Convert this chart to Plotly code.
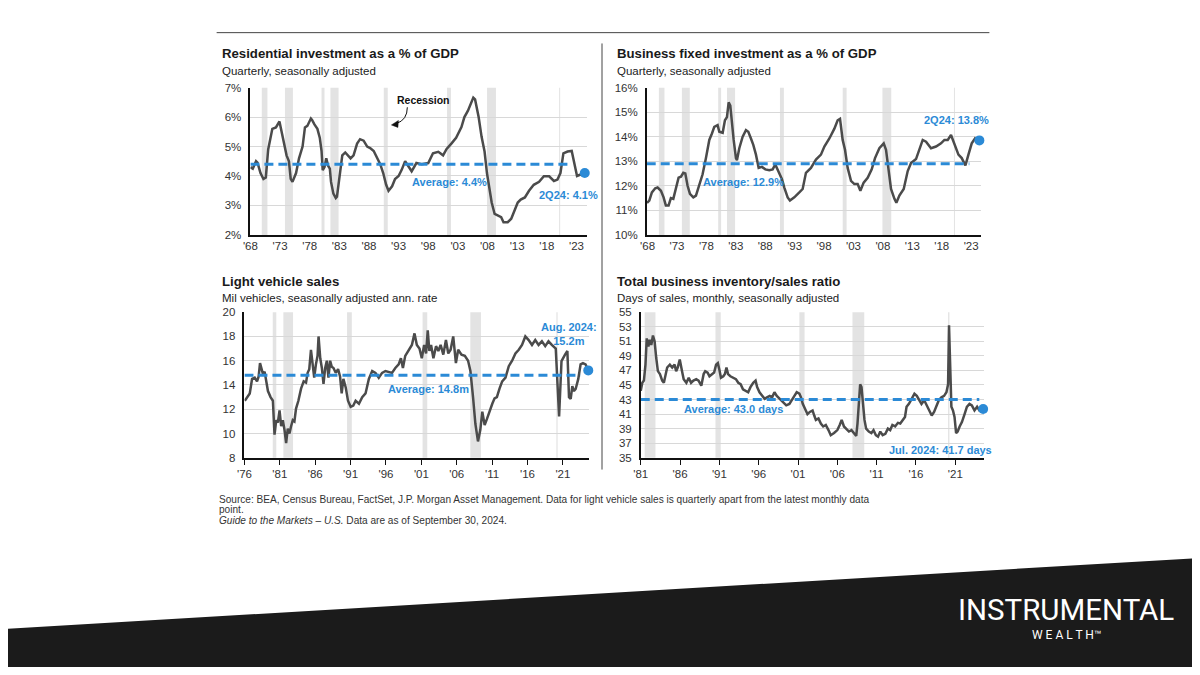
import plotly.graph_objects as go

# Target picture is 1200x675; the page adds an 8px body margin, so the figure is
# sized to fit inside it and positions below are given in picture pixels.
PAGE_W, PAGE_H = 1200, 675
OFF = 8
W, H = PAGE_W - 2 * OFF, PAGE_H - 2 * OFF


def px(x):
    return (x - OFF) / W


def py(y):
    return 1 - (y - OFF) / H


# ---------------- DATA ----------------
res_years = [1968.0, 1968.4, 1968.95, 1969.2, 1969.7, 1970.2, 1970.6, 1971.0, 1971.7, 1972.3, 1972.9,
             1973.3, 1973.8, 1974.1, 1974.5, 1974.8, 1975.1, 1975.7, 1976.2, 1976.8, 1977.2, 1977.6,
             1978.2, 1978.4, 1978.8, 1979.3, 1979.7, 1980.0, 1980.2, 1980.5, 1980.8, 1981.1, 1981.4,
             1981.6, 1982.0, 1982.4, 1982.6, 1983.0, 1983.5, 1984.0, 1984.4, 1984.9, 1985.4, 1986.0,
             1986.5, 1987.1, 1987.7, 1988.2, 1988.8, 1989.3, 1989.9, 1990.4, 1990.9, 1991.3, 1991.9,
             1992.4, 1993.0, 1993.5, 1994.1, 1995.2, 1996.0, 1996.9, 1998.0, 1998.8, 1999.7, 2000.5,
             2001.1, 2001.9, 2002.7, 2003.6, 2004.1, 2004.7, 2005.2, 2005.6, 2005.9, 2006.5, 2007.0,
             2007.5, 2007.9, 2008.3, 2008.7, 2009.2, 2009.7, 2010.3, 2010.7, 2011.4, 2012.0, 2012.5,
             2013.1, 2013.6, 2014.3, 2015.0, 2015.8, 2016.7, 2017.5, 2018.4, 2019.2, 2019.8, 2020.3,
             2020.8, 2021.5, 2022.2, 2022.7, 2023.1, 2023.7, 2024.4]
res_values = [4.3, 4.25, 4.5, 4.45, 4.1, 3.9, 3.95, 4.9, 5.6, 5.65, 5.85,
              5.5, 5.0, 4.7, 4.5, 3.9, 3.8, 4.1, 4.6, 5.0, 5.65, 5.7,
              5.95, 5.9, 5.75, 5.6, 5.3, 4.85, 4.2, 4.3, 4.6, 4.35, 4.25,
              3.8, 3.4, 3.25, 3.3, 3.9, 4.7, 4.8, 4.7, 4.6, 4.7, 5.1,
              5.25, 5.2, 5.0, 4.95, 4.85, 4.65, 4.4, 4.1, 3.7, 3.5, 3.65,
              3.9, 4.0, 4.2, 4.5, 4.16, 4.44, 4.4, 4.44, 4.77, 4.82, 4.7,
              4.92, 5.1, 5.3, 5.66, 6.0, 6.22, 6.5, 6.66, 6.6, 6.0, 5.33,
              4.83, 4.1, 3.54, 3.1, 2.71, 2.66, 2.6, 2.43, 2.43, 2.55, 2.82,
              3.1, 3.2, 3.27, 3.5, 3.7, 3.8, 3.99, 3.99, 3.83, 3.88, 4.1,
              4.77, 4.83, 4.85, 4.38, 4.0, 4.05, 4.1]

bfi_years = [1967.9, 1968.29, 1968.73, 1969.3, 1969.7, 1970.27, 1970.72, 1971.1, 1971.57, 1971.96,
             1972.37, 1972.82, 1973.27, 1973.67, 1974.07, 1974.41, 1974.8, 1975.2, 1975.77, 1976.22,
             1976.79, 1977.35, 1977.92, 1978.49, 1978.94, 1979.34, 1979.9, 1980.19, 1980.76, 1981.15,
             1981.49, 1981.78, 1982.06, 1982.34, 1982.63, 1983.02, 1983.19, 1983.59, 1984.16, 1984.72,
             1985.12, 1985.57, 1985.97, 1986.42, 1986.88, 1987.44, 1988.01, 1988.69, 1989.26, 1989.71,
             1990.28, 1990.84, 1991.24, 1991.81, 1992.2, 1992.94, 1993.79, 1994.36, 1994.92, 1995.77,
             1996.62, 1997.47, 1998.05, 1998.9, 1999.75, 2000.31, 2000.71, 2001.16, 2001.56, 2002.01,
             2002.58, 2003.15, 2003.71, 2004.17, 2004.73, 2005.41, 2006.1, 2006.66, 2007.4, 2008.14,
             2008.53, 2008.94, 2009.38, 2009.96, 2010.29, 2010.8, 2011.54, 2012.22, 2012.78, 2013.63,
             2014.2, 2014.77, 2015.33, 2016.18, 2017.03, 2017.88, 2018.46, 2019.02, 2019.58, 2020.16,
             2020.84, 2021.4, 2022.03, 2022.54, 2023.1, 2023.67, 2024.12, 2024.4]
bfi_values = [11.3, 11.4, 11.73, 11.9, 11.93, 11.8, 11.53, 11.2, 11.2, 11.5,
              11.47, 11.87, 12.33, 12.37, 12.53, 12.5, 12.0, 11.67, 11.53, 11.6,
              12.0, 12.47, 13.13, 13.87, 14.13, 14.4, 14.47, 14.2, 14.16, 14.67,
              14.8, 15.4, 15.27, 14.53, 13.87, 13.13, 13.04, 13.53, 14.0, 14.27,
              14.2, 13.93, 13.67, 13.27, 12.73, 12.77, 12.67, 12.64, 12.67, 12.87,
              12.53, 12.27, 11.93, 11.53, 11.4, 11.53, 11.73, 11.87, 12.53, 12.73,
              13.07, 13.27, 13.6, 13.93, 14.33, 14.67, 14.73, 13.87, 13.47, 12.73,
              12.2, 12.07, 12.07, 11.8, 12.13, 12.33, 12.67, 13.13, 13.53, 13.73,
              13.47, 12.73, 11.87, 11.47, 11.31, 11.6, 11.87, 12.6, 12.93, 13.09,
              13.53, 13.87, 13.8, 13.53, 13.6, 13.73, 13.87, 13.87, 14.07, 13.67,
              13.27, 13.13, 12.83, 13.27, 13.73, 13.93, 13.84, 13.85]

lvs_years = [1976.05, 1976.42, 1976.75, 1977.08, 1977.45, 1977.78, 1978.01, 1978.2, 1978.38, 1978.62,
             1978.85, 1979.09, 1979.32, 1979.69, 1980.02, 1980.25, 1980.49, 1980.72, 1980.96, 1981.19,
             1981.42, 1981.66, 1981.89, 1982.12, 1982.36, 1982.59, 1982.83, 1983.06, 1983.29, 1983.62,
             1984.0, 1984.37, 1984.7, 1984.93, 1985.16, 1985.4, 1985.63, 1985.86, 1986.1, 1986.33,
             1986.47, 1986.71, 1986.94, 1987.17, 1987.41, 1987.64, 1987.87, 1988.11, 1988.34, 1988.58,
             1988.9, 1989.23, 1989.51, 1989.74, 1989.98, 1990.31, 1990.63, 1991.01, 1991.38, 1991.71,
             1992.18, 1992.64, 1993.11, 1993.58, 1994.05, 1994.51, 1994.98, 1995.45, 1995.92, 1996.38,
             1996.85, 1997.32, 1997.79, 1998.11, 1998.39, 1998.72, 1999.19, 1999.66, 2000.03, 2000.36,
             2000.73, 2001.06, 2001.39, 2001.67, 2001.9, 2002.13, 2002.37, 2002.7, 2003.07, 2003.4,
             2003.72, 2004.1, 2004.47, 2004.8, 2005.13, 2005.5, 2005.88, 2006.2, 2006.67, 2007.14,
             2007.6, 2007.93, 2008.3, 2008.63, 2009.0, 2009.33, 2009.61, 2009.94, 2010.27, 2010.64,
             2011.02, 2011.34, 2011.67, 2012.04, 2012.42, 2012.89, 2013.35, 2013.82, 2014.29, 2014.76,
             2015.22, 2015.69, 2016.16, 2016.63, 2017.09, 2017.56, 2018.03, 2018.5, 2018.96, 2019.43,
             2019.99, 2020.46, 2020.8, 2021.3, 2021.63, 2021.86, 2022.1, 2022.33, 2022.56, 2022.8,
             2023.17, 2023.5, 2023.83, 2024.2, 2024.58]
lvs_values = [12.7, 13.0, 13.3, 14.5, 14.6, 14.3, 14.7, 15.8, 15.4, 14.9,
              15.1, 14.2, 13.5, 13.0, 12.7, 9.9, 11.1, 10.9, 11.9, 10.6,
              11.1, 10.3, 9.2, 10.4, 10.0, 10.6, 11.1, 11.0, 12.05, 12.7,
              13.7, 14.3, 14.2, 15.0, 15.3, 16.9, 15.7, 14.6, 15.7, 16.4,
              18.0, 16.2, 15.4, 14.1, 15.4, 16.0, 14.6, 16.0, 15.5, 15.4,
              15.0, 15.3, 14.7, 13.3, 14.5, 13.8, 12.7, 12.2, 12.3, 12.7,
              12.45, 13.0, 13.3, 14.5, 15.15, 15.0, 14.6, 15.0, 15.15, 15.1,
              15.0, 15.4, 15.7, 16.2, 15.4, 16.4, 16.8, 17.3, 18.25, 17.3,
              17.0, 16.2, 17.3, 16.6, 18.5, 16.8, 17.3, 16.2, 17.2, 16.8,
              17.3, 16.5, 17.7, 16.6, 16.9, 18.0, 15.8, 16.9, 16.5, 16.4,
              16.0, 15.15, 13.0, 10.8, 9.35, 10.3, 11.8, 10.7, 11.2, 11.9,
              12.45, 12.9, 13.0, 13.7, 14.3, 14.6, 15.55, 16.0, 16.6, 16.9,
              17.3, 18.0, 17.7, 17.3, 17.7, 17.3, 17.6, 17.2, 17.6, 17.3,
              17.0, 11.4, 15.96, 16.5, 16.8, 13.0, 12.86, 13.9, 13.5, 13.67,
              14.5, 15.7, 15.8, 15.7, 15.2]

inv_years = [1981.0, 1981.2, 1981.4, 1981.6, 1981.76, 1981.97, 1982.13, 1982.34, 1982.55, 1982.76,
             1982.97, 1983.18, 1983.44, 1983.73, 1983.94, 1984.15, 1984.36, 1984.7, 1985.0, 1985.3,
             1985.5, 1985.7, 1985.96, 1986.25, 1986.46, 1986.8, 1987.1, 1987.4, 1987.7, 1988.06,
             1988.35, 1988.7, 1989.0, 1989.2, 1989.5, 1989.74, 1990.03, 1990.33, 1990.58, 1990.8,
             1991.0, 1991.2, 1991.5, 1991.7, 1991.9, 1992.1, 1992.4, 1992.76, 1993.1, 1993.4,
             1993.7, 1994.0, 1994.36, 1994.66, 1994.95, 1995.3, 1995.6, 1995.8, 1996.1, 1996.46,
             1996.76, 1997.05, 1997.4, 1997.7, 1998.0, 1998.3, 1998.65, 1999.07, 1999.5, 1999.9,
             2000.24, 2000.54, 2000.83, 2001.17, 2001.38, 2001.6, 2001.9, 2002.2, 2002.5, 2002.85,
             2003.06, 2003.27, 2003.6, 2003.9, 2004.2, 2004.53, 2004.87, 2005.16, 2005.58, 2006.0,
             2006.3, 2006.55, 2006.84, 2007.13, 2007.47, 2007.8, 2008.1, 2008.4, 2008.56, 2008.73,
             2008.9, 2009.07, 2009.24, 2009.45, 2009.66, 2010.0, 2010.33, 2010.6, 2010.9, 2011.17,
             2011.46, 2011.76, 2012.1, 2012.43, 2012.72, 2013.0, 2013.35, 2013.7, 2014.0, 2014.28,
             2014.6, 2014.8, 2015.1, 2015.45, 2015.8, 2016.1, 2016.4, 2016.7, 2017.05, 2017.34,
             2017.64, 2018.0, 2018.3, 2018.6, 2018.9, 2019.24, 2019.57, 2019.87, 2020.08, 2020.2,
             2020.33, 2020.5, 2020.7, 2020.9, 2021.1, 2021.3, 2021.55, 2021.84, 2022.18, 2022.47,
             2022.8, 2023.1, 2023.44, 2023.77, 2024.07, 2024.54]
inv_values = [44.2, 45.3, 45.6, 47.8, 51.4, 50.3, 51.2, 50.5, 51.8, 51.0,
              48.7, 46.9, 46.5, 45.6, 45.3, 46.2, 47.4, 47.8, 47.4, 47.8,
              46.9, 47.4, 48.5, 46.9, 45.8, 45.3, 46.0, 45.3, 45.6, 45.8,
              45.6, 44.9, 46.5, 46.9, 46.7, 46.2, 46.5, 46.7, 47.8, 48.0,
              47.1, 46.0, 46.2, 46.5, 47.4, 46.5, 46.2, 46.0, 45.8, 45.3,
              45.1, 44.4, 44.2, 44.0, 44.7, 45.3, 45.6, 44.7, 44.0, 43.5,
              43.1, 43.3, 43.5, 43.3, 44.0, 43.5, 43.1, 42.6, 42.2, 42.4,
              43.1, 43.5, 44.0, 43.8, 43.3, 42.4, 41.7, 41.0, 41.3, 41.5,
              40.8, 40.2, 40.4, 39.7, 39.3, 39.5, 38.8, 38.1, 38.4, 38.8,
              39.5, 40.2, 39.3, 39.0, 38.6, 38.8, 38.4, 38.0, 39.7, 43.3,
              45.1, 44.7, 42.4, 40.2, 39.0, 38.6, 38.4, 38.8, 38.1, 37.9,
              38.6, 38.1, 38.3, 39.0, 38.8, 39.5, 39.3, 39.8, 39.7, 40.2,
              40.6, 42.0, 42.4, 43.1, 43.8, 43.5, 42.9, 42.4, 42.9, 42.2,
              41.7, 40.8, 41.3, 42.0, 42.9, 43.3, 43.5, 44.0, 45.1, 53.2,
              46.5, 42.0, 41.5, 40.6, 38.4, 38.6, 39.3, 39.9, 41.0, 42.0,
              42.4, 42.2, 41.5, 42.0, 41.5, 41.7]

recession_starts = [1969.92, 1973.83, 1980.0, 1981.5, 1990.5, 2001.17, 2007.92, 2020.08]
recession_ends = [1970.87, 1975.17, 1980.5, 1982.87, 1991.17, 2001.83, 2009.42, 2020.25]

averages = [4.4, 12.9, 14.8, 43.0]
average_ends = [2022.3, 2022.7, 2023.5, 2024.05]

top_ticks = [1968, 1973, 1978, 1983, 1988, 1993, 1998, 2003, 2008, 2013, 2018, 2023]
top_ticktext = ["'68", "'73", "'78", "'83", "'88", "'93", "'98", "'03", "'08", "'13", "'18", "'23"]
lvs_ticks = [1976, 1981, 1986, 1991, 1996, 2001, 2006, 2011, 2016, 2021]
lvs_ticktext = ["'76", "'81", "'86", "'91", "'96", "'01", "'06", "'11", "'16", "'21"]
inv_ticks = [1981, 1986, 1991, 1996, 2001, 2006, 2011, 2016, 2021]
inv_ticktext = ["'81", "'86", "'91", "'96", "'01", "'06", "'11", "'16", "'21"]

titles = ["Residential investment as a % of GDP", "Business fixed investment as a % of GDP",
          "Light vehicle sales", "Total business inventory/sales ratio"]
subtitles = ["Quarterly, seasonally adjusted", "Quarterly, seasonally adjusted",
             "Mil vehicles, seasonally adjusted ann. rate", "Days of sales, monthly, seasonally adjusted"]

# ---------------- STYLE ----------------
FONT = "Liberation Sans, Arial, sans-serif"
LINE = "#4b4b4b"
BLUE = "#2b8ad6"
REC = "#e3e3e3"
GRID = "#d8d8d8"
TXT = "#333333"

panels = [
    dict(n="", px0=244, px1=583, py0=83, py1=233, xr=[1968, 2024.8], yr=[2, 7], dt=1, suf="%",
         xs=res_years, ys=res_values, tv=top_ticks, tt=top_ticktext, ticks=""),
    dict(n="2", px0=643, px1=980, py0=83, py1=233, xr=[1967.85, 2024.75], yr=[10, 16], dt=1, suf="%",
         xs=bfi_years, ys=bfi_values, tv=top_ticks, tt=top_ticktext, ticks=""),
    dict(n="3", px0=238, px1=585, py0=311.7, py1=460, xr=[1976, 2024.7], yr=[8, 20], dt=2, suf="",
         xs=lvs_years, ys=lvs_values, tv=lvs_ticks, tt=lvs_ticktext, ticks="outside"),
    dict(n="4", px0=637, px1=983, py0=311.7, py1=460, xr=[1981, 2024.7], yr=[35, 55], dt=2, suf="",
         xs=inv_years, ys=inv_values, tv=inv_ticks, tt=inv_ticktext, ticks="outside"),
]

fig = go.Figure()
shapes = []
layout = {}

for i, p in enumerate(panels):
    n = p["n"]
    xa, ya = "x" + n, "y" + n
    layout["xaxis" + n] = dict(
        domain=[px(p["px0"]), px(p["px1"])], range=p["xr"], anchor=ya,
        tickvals=p["tv"], ticktext=p["tt"], showgrid=False, zeroline=False,
        showline=True, linecolor="#111111", linewidth=1.5,
        ticks=p["ticks"], ticklen=5, tickcolor="#111111", tickwidth=1,
        tickfont=dict(family=FONT, size=11.5, color=TXT),
    )
    layout["yaxis" + n] = dict(
        domain=[py(p["py1"]), py(p["py0"])], range=p["yr"], anchor=xa,
        dtick=p["dt"], tick0=p["yr"][0], ticksuffix=p["suf"], showgrid=True, gridcolor=GRID,
        gridwidth=1, zeroline=False, showline=True, linecolor="#111111", linewidth=1.5,
        ticks="", ticklabelstandoff=5,
        tickfont=dict(family=FONT, size=11.5, color=TXT),
    )
    for s, e in zip(recession_starts, recession_ends):
        if e > p["xr"][0] and s < p["xr"][1]:
            shapes.append(dict(type="rect", xref=xa, yref=ya + " domain", x0=max(s, p["xr"][0]), x1=e,
                               y0=0, y1=1, fillcolor=REC, line=dict(width=0), layer="below"))
    fig.add_trace(go.Scatter(x=p["xs"], y=p["ys"], mode="lines", xaxis=xa, yaxis=ya,
                             line=dict(color=LINE, width=2.5), showlegend=False, hoverinfo="skip"))
    fig.add_trace(go.Scatter(x=[p["xr"][0], average_ends[i]], y=[averages[i], averages[i]], mode="lines",
                             xaxis=xa, yaxis=ya, line=dict(color=BLUE, width=3, dash="9px,5px"),
                             showlegend=False, hoverinfo="skip"))
    fig.add_trace(go.Scatter(x=[p["xs"][-1]], y=[p["ys"][-1]], mode="markers", xaxis=xa, yaxis=ya,
                             marker=dict(color=BLUE, size=10), showlegend=False, hoverinfo="skip",
                             cliponaxis=False))

annotations = []


def text(x, y, t, size, color=TXT, xanchor="left", yanchor="middle", align="left", family=FONT):
    annotations.append(dict(x=px(x), y=py(y), xref="paper", yref="paper", text=t, showarrow=False,
                            xanchor=xanchor, yanchor=yanchor, align=align,
                            font=dict(family=family, size=size, color=color)))


title_pos = [(213, 48, 66), (611, 48, 66), (213, 280, 297), (611, 280, 297)]
for (x, yt, ys), t, s in zip(title_pos, titles, subtitles):
    text(x, yt, "<b>" + t + "</b>", 13.2, color="#1a1a1a")
    text(x, ys, s, 11.5, color="#222222")

text(444, 179, "<b>Average: 4.4%</b>", 11, BLUE, xanchor="center")
text(564, 192, "<b>2Q24: 4.1%</b>", 11, BLUE, xanchor="center")
text(740, 179, "<b>Average: 12.9%</b>", 11, BLUE, xanchor="center")
text(955, 116, "<b>2Q24: 13.8%</b>", 11, BLUE, xanchor="center")
text(423, 390, "<b>Average: 14.8m</b>", 11, BLUE, xanchor="center")
text(565, 334, "<b>Aug. 2024:<br>15.2m</b>", 11, BLUE, xanchor="center", align="center")
text(730, 410, "<b>Average: 43.0 days</b>", 11, BLUE, xanchor="center")
text(939, 452, "<b>Jul. 2024: 41.7 days</b>", 11, BLUE, xanchor="center")

text(418, 96, "<b>Recession</b>", 10.5, "#111111", xanchor="center")
shapes.append(dict(type="path", xref="paper", yref="paper",
                   path=f"M {px(402)},{py(103)} Q {px(402)},{py(116)} {px(391)},{py(119.5)}",
                   line=dict(color="#111111", width=1)))
shapes.append(dict(type="path", xref="paper", yref="paper",
                   path=f"M {px(386)},{py(121)} L {px(393)},{py(116.5)} L {px(392.5)},{py(123.5)} Z",
                   fillcolor="#111111", line=dict(color="#111111", width=0.5)))

text(210, 502, "Source: BEA, Census Bureau, FactSet, J.P. Morgan Asset Management. Data for light vehicle "
               "sales is quarterly apart from the latest monthly data", 10.1, TXT)
text(210, 513, "point.", 10.1, TXT)
text(210, 524, "<i>Guide to the Markets – U.S.</i> Data are as of September 30, 2024.", 10.1, TXT)

shapes.append(dict(type="line", xref="paper", yref="paper", x0=px(210), x1=px(988), y0=py(27), y1=py(27),
                   line=dict(color="#444444", width=1)))
shapes.append(dict(type="line", xref="paper", yref="paper", x0=px(598), x1=px(598), y0=py(38), y1=py(472),
                   line=dict(color="#444444", width=1)))

shapes.append(dict(type="path", xref="paper", yref="paper",
                   path=f"M {px(-20)},{py(635.4)} L {px(1220)},{py(560.8)} L {px(1220)},{py(700)} "
                        f"L {px(-20)},{py(700)} Z",
                   fillcolor="#1b1b1b", line=dict(width=0), layer="above"))
text(1065, 615, "INSTRUMENTAL", 29.5, "#ffffff", xanchor="center",
     family="Liberation Sans Narrow, Roboto, sans-serif")
text(1066, 641, "W E A L T H™", 12, "#ffffff", xanchor="center",
     family="Liberation Sans Narrow, Roboto, sans-serif")

fig.update_layout(
    width=W, height=H, margin=dict(l=0, r=0, t=0, b=0),
    paper_bgcolor="white", plot_bgcolor="white", showlegend=False,
    shapes=shapes, annotations=annotations, **layout,
)

fig.write_html("out.html", config={"responsive": False, "displayModeBar": False})
